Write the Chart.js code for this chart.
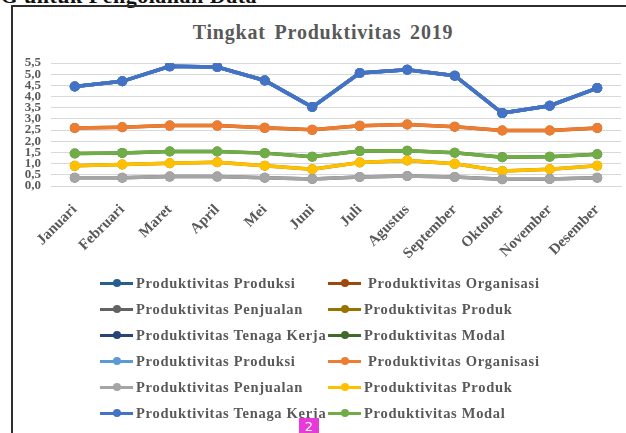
<!DOCTYPE html>
<html><head><meta charset="utf-8">
<script src="https://cdn.jsdelivr.net/npm/chart.js@4.4.1/dist/chart.umd.min.js"></script>
<style>
body{margin:0;width:626px;height:433px;overflow:hidden;background:#fff;position:relative;font-family:"Liberation Serif","DejaVu Serif",serif;}
#frame{position:absolute;left:11px;top:5px;width:700px;height:500px;border:2px solid #2e2e2e;box-sizing:border-box;}
#head{position:absolute;left:-16px;top:-17px;font-weight:bold;font-size:22px;letter-spacing:0.5px;color:#111;white-space:nowrap;}
#title{position:absolute;left:10px;width:626px;top:21px;text-align:center;font-weight:bold;font-size:20px;letter-spacing:0.8px;word-spacing:3px;color:#595959;}
#c{position:absolute;left:0;top:0;}
.li{position:absolute;height:16px;display:flex;align-items:center;white-space:nowrap;font-weight:bold;font-size:14.5px;letter-spacing:0.7px;color:#595959;}
.sym{position:relative;width:33px;height:16px;margin-right:3px;}
.sym .ln{position:absolute;left:0;right:0;top:6.5px;height:3px;}
.sym .dt{position:absolute;left:12.5px;top:4px;width:8px;height:8px;border-radius:50%;}
#page{position:absolute;left:299px;top:418px;width:20px;height:15px;background:#e83ad8;color:#fff;font-family:"DejaVu Sans",sans-serif;font-size:13px;text-align:center;line-height:17px;}
</style></head>
<body>
<div id="head">NG untuk Pengolahan Data</div>
<div id="frame"></div>
<div id="title">Tingkat Produktivitas 2019</div>
<canvas id="c" width="626" height="433"></canvas>
<div id="legend"></div>
<div id="page">2</div>
<script>
// ---- data ----
const months = ["Januari","Februari","Maret","April","Mei","Juni","Juli","Agustus","September","Oktober","November","Desember"];
const tenagaKerja = [4.45,4.68,5.35,5.32,4.72,3.53,5.05,5.20,4.93,3.26,3.59,4.38];
const produksi    = [4.45,4.68,5.35,5.32,4.72,3.53,5.05,5.20,4.93,3.26,3.59,4.38];
const organisasi  = [2.59,2.63,2.70,2.70,2.60,2.51,2.69,2.75,2.65,2.48,2.48,2.59];
const modal       = [1.45,1.48,1.54,1.54,1.47,1.31,1.56,1.58,1.49,1.29,1.31,1.42];
const produk      = [0.90,0.96,1.02,1.06,0.91,0.75,1.05,1.14,0.99,0.67,0.75,0.91];
const penjualan   = [0.37,0.37,0.42,0.42,0.37,0.31,0.40,0.45,0.40,0.30,0.31,0.37];
const seriesNames = ["Produktivitas Produksi","Produktivitas Organisasi","Produktivitas Penjualan","Produktivitas Produk","Produktivitas Tenaga Kerja","Produktivitas Modal"];
const seriesData  = [produksi, organisasi, penjualan, produk, tenagaKerja, modal];
const darkColors  = ["#255E91","#9E480E","#636363","#997300","#264478","#43682B"];
const lightColors = ["#5B9BD5","#ED7D31","#A5A5A5","#FFC000","#4472C4","#70AD47"];
const yTicks = [0,0.5,1,1.5,2,2.5,3,3.5,4,4.5,5,5.5];

const datasets = [];
function mk(label,data,color,order){
  return {label,data,borderColor:color,backgroundColor:color,pointBackgroundColor:color,pointBorderColor:color,
    borderWidth:3.5,pointRadius:5,pointBorderWidth:0,tension:0,order};
}
seriesNames.forEach((n,i)=>datasets.push(mk(n,seriesData[i],darkColors[i],3)));
seriesNames.forEach((n,i)=>datasets.push(mk(n,seriesData[i],lightColors[i],i===4?0:1)));

new Chart(document.getElementById('c'),{
  type:'line',
  data:{labels:months,datasets},
  options:{
    responsive:false,animation:false,
    layout:{padding:{left:14,right:5,top:63,bottom:167}},
    plugins:{legend:{display:false},title:{display:false},tooltip:{enabled:false}},
    scales:{
      x:{
        offset:true,
        grid:{display:false},
        border:{display:true,color:'#d9d9d9',width:1},
        ticks:{minRotation:45,maxRotation:45,autoSkip:false,color:'#595959',padding:7,
          font:{family:'"Liberation Serif", serif',weight:'bold',size:15}},
        afterFit:(s)=>{s.height=80;}
      },
      y:{
        min:0,max:5.5,
        afterBuildTicks:(s)=>{s.ticks=yTicks.map(v=>({value:v}));},
        grid:{color:'#d9d9d9',lineWidth:1,drawTicks:false},
        border:{display:false},
        ticks:{autoSkip:false,color:'#595959',padding:10,
          font:{family:'"Liberation Serif", serif',weight:'bold',size:13},
          callback:(v)=>v.toFixed(1).replace('.',',')},
        afterFit:(s)=>{s.width=37;}
      }
    }
  }
});

// HTML legend built from series arrays
const leg = document.getElementById('legend');
const rowY = [275,301,327,353,379,405];
const colX = [100,328];
const allColors = darkColors.concat(lightColors);
const allNames = seriesNames.concat(seriesNames);
allNames.forEach((n,i)=>{
  const row = Math.floor(i/2), col = i%2;
  const d = document.createElement('div');
  d.className='li';
  d.style.left = colX[col]+'px';
  d.style.top = rowY[row]+'px';
  const extra = (n==="Produktivitas Organisasi") ? 4 : 0;
  d.innerHTML = '<div class="sym" style="margin-right:'+(3+extra)+'px"><div class="ln" style="background:'+allColors[i]+'"></div><div class="dt" style="background:'+allColors[i]+'"></div></div><span>'+n+'</span>';
  leg.appendChild(d);
});
</script>
</body></html>
